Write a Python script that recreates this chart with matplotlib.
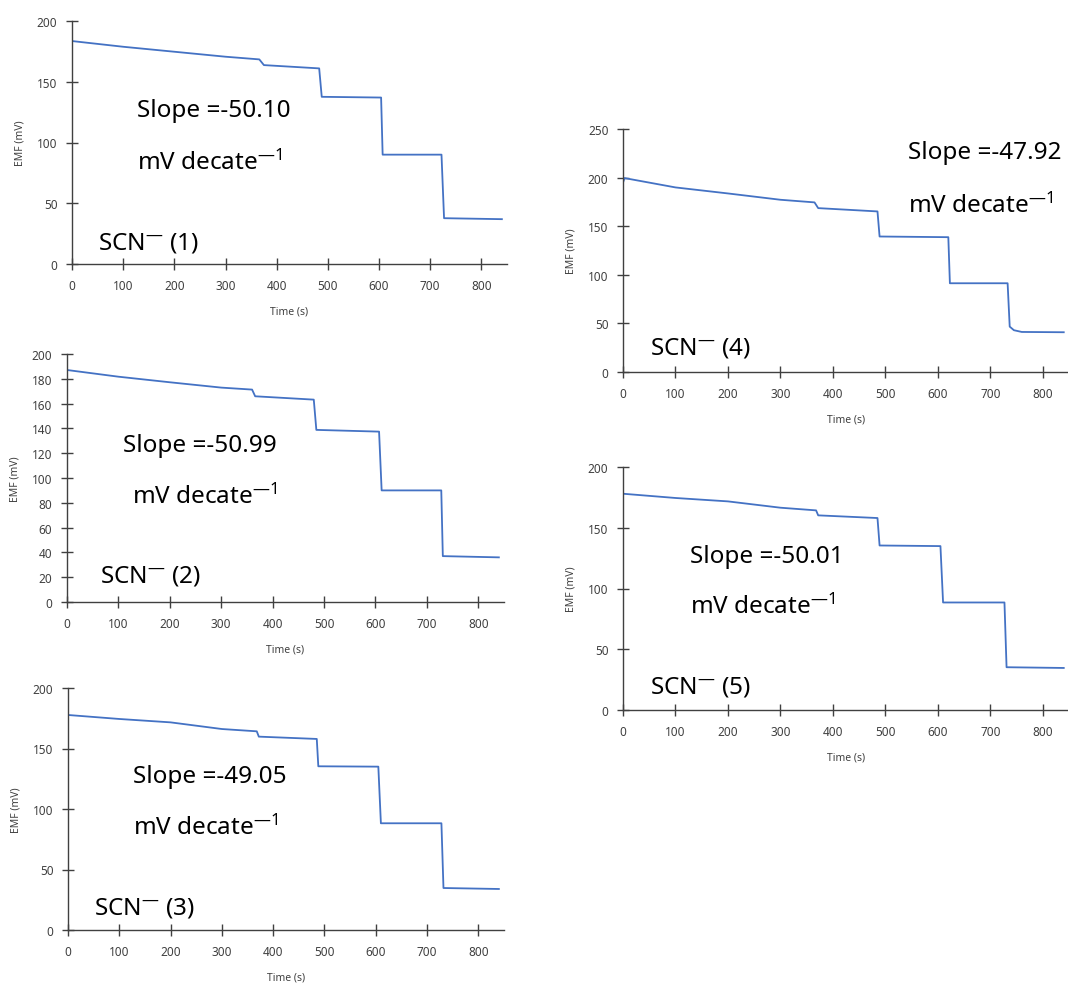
import matplotlib
matplotlib.use("Agg")
import matplotlib.pyplot as plt

plt.rcParams['font.family'] = ['Noto Sans', 'DejaVu Sans']
plt.rcParams['mathtext.fontset'] = 'custom'
plt.rcParams['mathtext.rm'] = 'Noto Sans'
plt.rcParams['mathtext.it'] = 'Noto Sans'

# EMF traces (time in s, EMF in mV)
t1 = [0, 100, 200, 300, 366, 375, 483, 488, 604, 607, 722, 727, 840]
emf1 = [183.5, 178.8, 174.7, 170.6, 168.4, 163.7, 161.0, 137.6, 137.0, 90.0, 90.0, 37.7, 36.9]

t2 = [0, 100, 200, 300, 360, 366, 480, 485, 607, 612, 728, 731, 840]
emf2 = [187.1, 181.7, 177.2, 172.9, 171.3, 165.9, 163.2, 138.8, 137.4, 90.0, 90.0, 37.0, 36.0]

t3 = [0, 100, 200, 300, 368, 372, 485, 488, 605, 610, 728, 732, 840]
emf3 = [177.7, 174.4, 171.6, 166.1, 164.2, 159.8, 157.9, 135.3, 135.0, 88.2, 88.2, 34.7, 33.9]

t4 = [0, 3, 100, 200, 300, 365, 372, 485, 489, 620, 623, 733, 737, 745, 760, 840]
emf4 = [195.0, 199.5, 189.9, 183.7, 177.2, 174.5, 168.6, 165.2, 139.4, 138.7, 91.3, 91.3, 46.7, 43.0, 41.2, 40.9]

t5 = [0, 100, 200, 300, 368, 372, 485, 489, 605, 610, 727, 731, 840]
emf5 = [178.0, 174.5, 171.7, 166.5, 164.3, 160.2, 158.0, 135.4, 134.9, 88.5, 88.5, 35.2, 34.6]

slopes = ['-50.10', '-50.99', '-49.05', '-47.92', '-50.01']
x_ticks = [0, 100, 200, 300, 400, 500, 600, 700, 800]

W, H = 1068, 987
fig = plt.figure(figsize=(W / 100, H / 100), dpi=100)


def px_axes(left, top, right, bottom):
    return fig.add_axes([left / W, 1 - bottom / H, (right - left) / W, (bottom - top) / H])


def style(ax, ymax, ystep):
    ax.set_xlim(0, 850)
    ax.set_ylim(0, ymax)
    ax.set_xticks(x_ticks)
    ax.set_yticks(range(0, ymax + 1, ystep))
    for s in ['top', 'right']:
        ax.spines[s].set_visible(False)
    for s in ['left', 'bottom']:
        ax.spines[s].set_color('#404040')
        ax.spines[s].set_linewidth(1.0)
    ax.tick_params(direction='inout', length=9, width=1.0, color='#404040',
                   labelsize=8.5, labelcolor='#404040', pad=6)
    ax.set_xlabel('Time (s)', fontsize=7.5, color='#404040', labelpad=10)
    ax.set_ylabel('EMF (mV)', fontsize=7.5, color='#404040', labelpad=8)


panels = [
    # axes box in pixels, data, y range, text positions
    ((72, 22, 507, 265), t1, emf1, 200, 50, (127, 127), (127, 84), (50, 18), 1),
    ((67, 355, 504, 603), t2, emf2, 200, 20, (109, 127), (127, 85), (64, 21), 2),
    ((68, 689, 504, 931), t3, emf3, 200, 50, (127, 127), (127, 85), (51, 19), 3),
    ((623, 130, 1069, 373), t4, emf4, 250, 50, (543, 226), (543, 172), (51, 25), 4),
    ((623, 468, 1069, 711), t5, emf5, 200, 50, (128, 127), (128, 85), (51, 19), 5),
]

for box, t, emf, ymax, ystep, p_slope, p_unit, p_ion, n in panels:
    ax = px_axes(*box)
    ax.plot(t, emf, color='#4472C4', linewidth=1.3)
    style(ax, ymax, ystep)
    ax.text(p_slope[0], p_slope[1], 'Slope =' + slopes[n - 1], fontsize=17.5,
            va='center', ha='left', color='black', clip_on=False)
    ax.text(p_unit[0], p_unit[1], 'mV decate$^{\u2014 1}$', fontsize=17.5,
            va='center', ha='left', color='black', clip_on=False)
    ax.text(p_ion[0], p_ion[1], 'SCN$^{\u2014}$ (%d)' % n, fontsize=17.5,
            va='center', ha='left', color='black', clip_on=False)

fig.savefig('out.png', dpi=100)
